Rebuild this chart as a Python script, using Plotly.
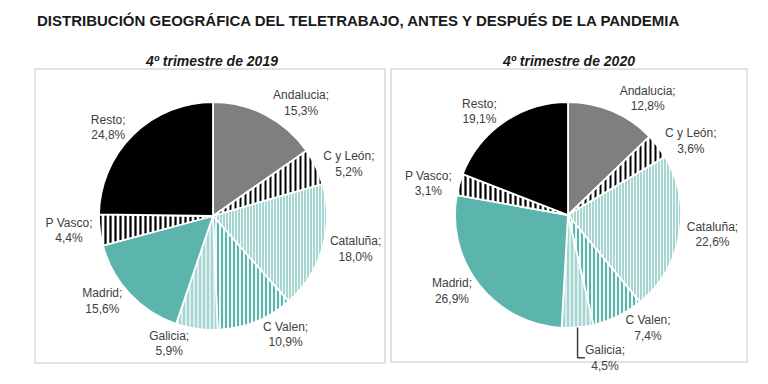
import plotly.graph_objects as go

title = "DISTRIBUCIÓN GEOGRÁFICA DEL TELETRABAJO, ANTES Y DESPUÉS DE LA PANDEMIA"
regions = ["Andalucia", "C y León", "Cataluña", "C Valen", "Galicia", "Madrid", "P Vasco", "Resto"]
share_2019 = [15.3, 5.2, 18.0, 10.9, 5.9, 15.6, 4.4, 24.8]
share_2020 = [12.8, 3.6, 22.6, 7.4, 4.5, 26.9, 3.1, 19.1]
panel_titles = ["4º trimestre de 2019", "4º trimestre de 2020"]

TEAL = "#5cb5ad"
LTEAL = "#a6d6d1"
base_colors = ["#7f7f7f", "#ffffff", LTEAL, "#ffffff", LTEAL, TEAL, "#ffffff", "#000000"]
pat = dict(
    shape=["", "|", "|", "|", "|", "", "|", ""],
    fgcolor=["#7f7f7f", "#000000", "#ffffff", TEAL, "#ffffff", TEAL, "#000000", "#000000"],
    bgcolor=["#7f7f7f", "#ffffff", LTEAL, "#ffffff", LTEAL, TEAL, "#ffffff", "#000000"],
    size=[4, 5, 3, 4, 4, 4, 5, 4],
    solidity=[0.3, 0.4, 0.3, 0.55, 0.3, 0.3, 0.45, 0.3],
    fillmode="replace",
)

W, H = 768, 384
OFF = 8  # page body margin
def px(x): return (x - OFF) / W
def py(y): return 1 - (y - OFF) / H

def dom(cx, cy, r):
    return dict(x=[px(cx - r), px(cx + r)], y=[py(cy + r), py(cy - r)])

def pie(values, d):
    return go.Pie(
        labels=regions, values=values, sort=False, direction="clockwise", rotation=0,
        domain=d,
        marker=dict(colors=base_colors, line=dict(color="white", width=1.8), pattern=pat),
        textposition="outside", texttemplate="%{label};<br>%{value:.1f}%",
        textfont=dict(family="Liberation Sans", size=12, color="#404040"),
        showlegend=False, hoverinfo="label+value",
    )

fig = go.Figure()
fig.add_trace(pie(share_2019, dom(213, 216, 114)))
fig.add_trace(pie(share_2020, dom(568, 215, 113)))

shapes = []
for (x0, y0, x1, y1) in [(35, 69, 385, 363), (391, 69, 747, 362)]:
    shapes.append(dict(type="rect", xref="paper", yref="paper", x0=px(x0), x1=px(x1), y0=py(y1), y1=py(y0),
                       line=dict(color="#d9d9d9", width=1.5), fillcolor="rgba(0,0,0,0)", layer="below"))

annotations = [
    dict(text="<b>" + title + "</b>", x=px(35), y=py(20), xref="paper", yref="paper", xanchor="left", yanchor="middle",
         showarrow=False, font=dict(family="Liberation Sans", size=15, color="#1a1a1a")),
    dict(text="<b><i>" + panel_titles[0] + "</i></b>", x=px(211), y=py(61), xref="paper", yref="paper",
         xanchor="center", yanchor="middle", showarrow=False, font=dict(family="Liberation Sans", size=14, color="#1a1a1a")),
    dict(text="<b><i>" + panel_titles[1] + "</i></b>", x=px(568), y=py(61), xref="paper", yref="paper",
         xanchor="center", yanchor="middle", showarrow=False, font=dict(family="Liberation Sans", size=14, color="#1a1a1a")),
]

fig.update_layout(width=W, height=H, margin=dict(l=0, r=0, t=0, b=0), paper_bgcolor="white",
                  separators=",.", shapes=shapes, annotations=annotations)
fig.write_html("out.html")
